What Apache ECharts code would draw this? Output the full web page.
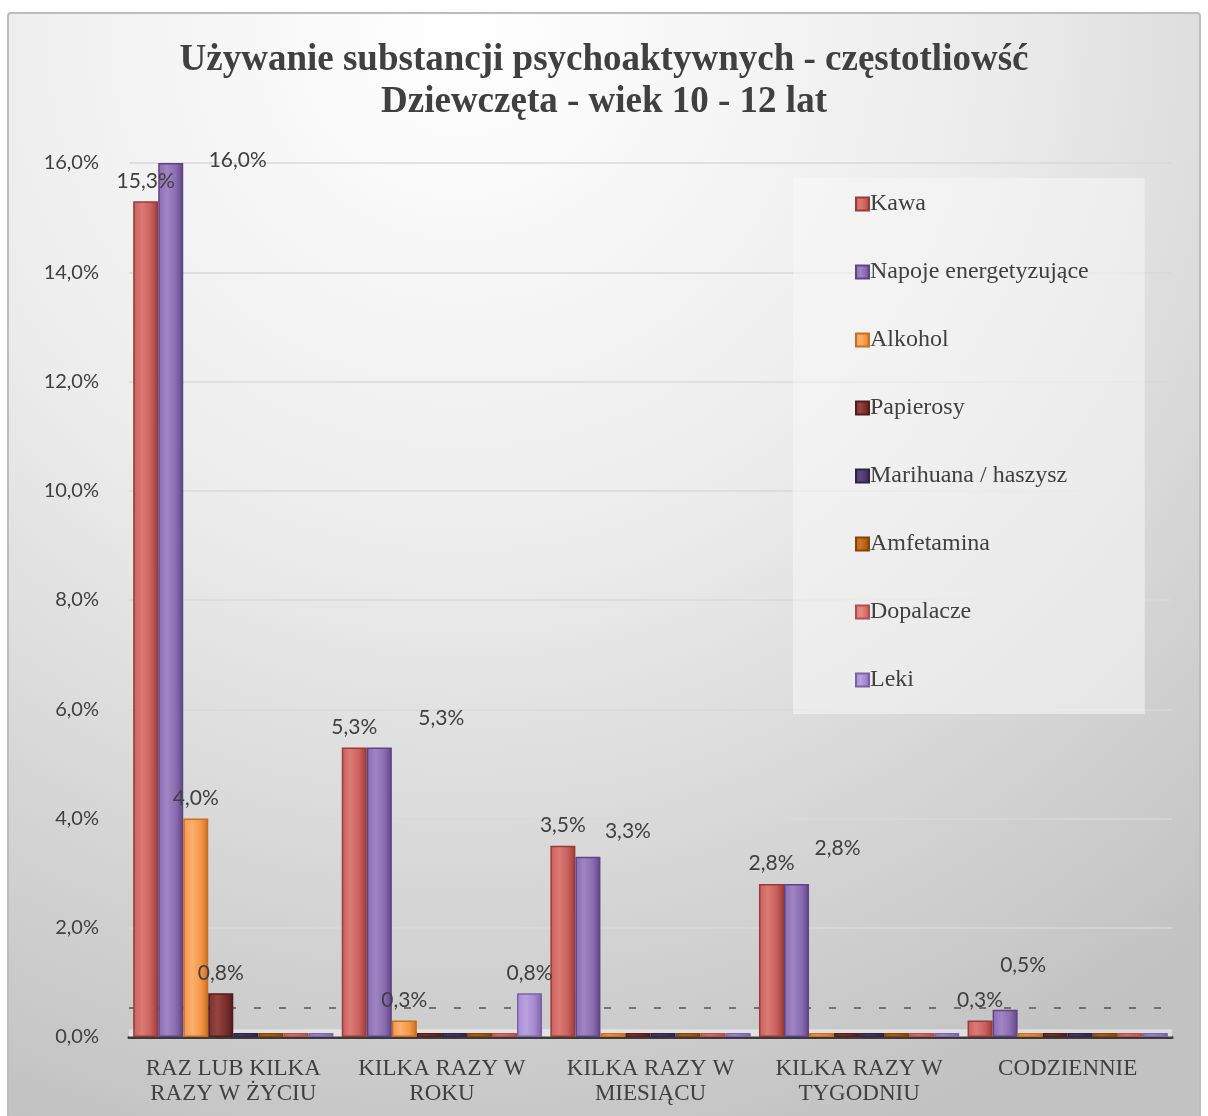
<!DOCTYPE html>
<html>
<head>
<meta charset="utf-8">
<script src="https://cdn.jsdelivr.net/npm/echarts@6/dist/echarts.min.js"></script>
<style>html,body{margin:0;padding:0;background:#fff;}#c{width:1208px;height:1116px;}</style>
</head>
<body>
<div id="c"></div>
<script>
// ---- data ----
const categories = ['RAZ LUB KILKA\nRAZY W ŻYCIU', 'KILKA RAZY W\nROKU', 'KILKA RAZY W\nMIESIĄCU', 'KILKA RAZY W\nTYGODNIU', 'CODZIENNIE'];
const seriesNames = ['Kawa', 'Napoje energetyzujące', 'Alkohol', 'Papierosy', 'Marihuana / haszysz', 'Amfetamina', 'Dopalacze', 'Leki'];
const kawa       = [15.3, 5.3, 3.5, 2.8, 0.3];
const napoje     = [16.0, 5.3, 3.3, 2.8, 0.5];
const alkohol    = [4.0, 0.3, 0, 0, 0];
const papierosy  = [0.8, 0, 0, 0, 0];
const marihuana  = [0, 0, 0, 0, 0];
const amfetamina = [0, 0, 0, 0, 0];
const dopalacze  = [0, 0, 0, 0, 0];
const leki       = [0, 0.8, 0, 0, 0];
const yTickValues = [0, 2, 4, 6, 8, 10, 12, 14, 16];

// ---- styles ----
const mainColors  = ['#c9605c', '#8a6db0', '#f79646', '#7a2f2c', '#4a3868', '#b65e14', '#d9736f', '#a68ad0'];
const lightColors = ['#dc7a76', '#a184c4', '#fbb070', '#944441', '#5e4a80', '#cc7428', '#e68d89', '#baa2de'];
const darkColors  = ['#9a3b38', '#5f4585', '#c86e22', '#521c1a', '#30234a', '#86420a', '#b24f4b', '#7b62a6'];
const napojeLabelOffsets = [[67, 18], [62, -9], [40, -5], [41, -15], [18, -24]];

const allValues = [kawa, napoje, alkohol, papierosy, marihuana, amfetamina, dopalacze, leki];
const fmt = v => v.toFixed(1).replace('.', ',') + '%';

const chart = echarts.init(document.getElementById('c'), null, {renderer: 'canvas'});

const series = allValues.map((vals, si) => {
  const s = {
    name: seriesNames[si],
    type: 'bar',
    barGap: '0%',
    barCategoryGap: '4%',
    barMinHeight: 4,
    z: 3,
    itemStyle: {
      color: new echarts.graphic.LinearGradient(0, 0, 1, 0, [
        {offset: 0, color: mainColors[si]},
        {offset: 0.35, color: lightColors[si]},
        {offset: 0.7, color: mainColors[si]},
        {offset: 1, color: darkColors[si]}
      ]),
      borderColor: darkColors[si],
      borderWidth: 1.5
    },
    label: {
      show: true,
      position: 'top',
      distance: 10,
      fontFamily: 'Lato',
      fontSize: 21,
      color: '#404040',
      formatter: p => (p.value > 0 ? fmt(p.value) : '')
    },
    data: vals.map((v, i) => {
      if (si === 1) return {value: v, label: {offset: napojeLabelOffsets[i]}};
      return v;
    })
  };
  if (si === seriesNames.length - 1) {
    s.markLine = {
      z: 1, silent: true, symbol: 'none', label: {show: false},
      lineStyle: {color: '#555', type: [7, 18], width: 1.5},
      data: [{yAxis: 0.53}]
    };
    s.markArea = {
      z: 1, silent: true,
      itemStyle: {color: 'rgba(255,255,255,0.45)'},
      data: [[{yAxis: 0}, {yAxis: 0.14}]]
    };
  }
  return s;
});

const option = {
  backgroundColor: '#ffffff',
  animation: false,
  graphic: [{
    type: 'rect', z: -10, silent: true,
    shape: {x: 8, y: 13, width: 1192, height: 1110, r: 3},
    style: {
      fill: new echarts.graphic.RadialGradient(0.38, 0.02, 1.05, [
        {offset: 0, color: '#ffffff'},
        {offset: 0.45, color: '#ececec'},
        {offset: 1, color: '#c2c2c2'}
      ]),
      stroke: '#bdbdbd', lineWidth: 2
    }
  }],
  title: {
    text: 'Używanie substancji psychoaktywnych - częstotliowść\nDziewczęta - wiek 10 - 12 lat',
    left: 'center', top: 34,
    textStyle: {fontFamily: 'Liberation Serif', fontWeight: 'bold', fontSize: 37, lineHeight: 42, color: '#404040'}
  },
  legend: {
    orient: 'vertical',
    left: 793, top: 178,
    padding: [14, 56, 22, 62],
    backgroundColor: 'rgba(248,248,248,0.55)',
    itemWidth: 13, itemHeight: 13,
    itemGap: 44,
    icon: 'rect',
    textStyle: {fontFamily: 'Liberation Serif', fontSize: 24, lineHeight: 24, color: '#404040', padding: [0, 0, 0, -4]},
    data: seriesNames
  },
  grid: {left: 129, right: 36, top: 163, bottom: 79, containLabel: false},
  xAxis: {
    type: 'category',
    data: categories,
    axisLine: {lineStyle: {color: '#3a3a3a', width: 3}},
    axisTick: {show: false},
    axisLabel: {fontFamily: 'Liberation Serif', fontSize: 23, lineHeight: 25, color: '#404040', margin: 19, interval: 0}
  },
  yAxis: {
    type: 'value',
    min: yTickValues[0], max: yTickValues[yTickValues.length - 1], interval: yTickValues[1] - yTickValues[0],
    axisLine: {show: false},
    axisTick: {show: false},
    splitLine: {lineStyle: {color: '#d9d9d9', width: 1.5}},
    axisLabel: {fontFamily: 'Lato', fontSize: 20, color: '#404040', margin: 30, formatter: v => fmt(v)}
  },
  series: series
};
chart.setOption(option);
</script>
</body>
</html>
